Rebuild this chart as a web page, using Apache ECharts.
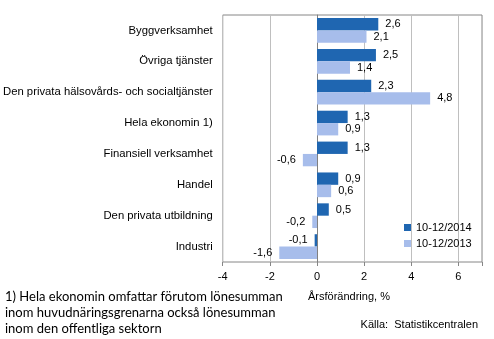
<!DOCTYPE html>
<html><head><meta charset="utf-8">
<script src="https://cdn.jsdelivr.net/npm/echarts@6/dist/echarts.min.js"></script>
<style>html,body{margin:0;padding:0;background:#fff}#c{width:494px;height:339px}</style>
</head><body><div id="c"></div>
<script>
const categories = ['Byggverksamhet','Övriga tjänster','Den privata hälsovårds- och socialtjänster','Hela ekonomin 1)','Finansiell verksamhet','Handel','Den privata utbildning','Industri'];
const series2014 = [2.6, 2.5, 2.3, 1.3, 1.3, 0.9, 0.5, -0.1];
const series2013 = [2.1, 1.4, 4.8, 0.9, -0.6, 0.6, -0.2, -1.6];
const xTicks = [-4, -2, 0, 2, 4, 6];
const names = ['10-12/2014', '10-12/2013'];
const footnote = '1) Hela ekonomin omfattar förutom lönesumman\ninom huvudnäringsgrenarna också lönesumman\ninom den offentliga sektorn';
const axisTitle = 'Årsförändring, %';
const source = 'Källa:  Statistikcentralen';

const FONT = '"Liberation Sans", Arial, sans-serif';
function mk(vals){
  return vals.map(v => ({value: v, label: {position: v < 0 ? 'left' : 'right'}}));
}
const chart = echarts.init(document.getElementById('c'), null, {renderer: 'canvas'});
chart.setOption({
  animation: false,
  grid: {left: 222, right: 12, top: 15, bottom: 77, show: true, borderColor: '#868686', borderWidth: 1},
  legend: {
    orient: 'vertical', left: 399, top: 217, itemWidth: 7, itemHeight: 7, itemGap: 5,
    icon: 'rect', textStyle: {fontFamily: FONT, fontSize: 11, color: '#000'},
    data: names
  },
  xAxis: {
    type: 'value', min: -4, max: 7, interval: 2,
    axisLine: {show: false},
    axisTick: {show: true, length: 4, lineStyle: {color: '#868686'}},
    axisLabel: {fontFamily: FONT, fontSize: 11, color: '#000', margin: 9,
      formatter: v => xTicks.includes(v) ? String(v) : ''},
    splitLine: {show: true, lineStyle: {color: '#BFBFBF'}}
  },
  yAxis: {
    type: 'category', data: categories, inverse: true,
    axisLine: {show: true, onZero: true, lineStyle: {color: '#808080'}},
    axisTick: {show: false},
    axisLabel: {fontFamily: FONT, fontSize: 11.3, color: '#000', margin: 10}
  },
  series: [
    {name: names[0], type: 'bar', data: mk(series2014), barGap: '0%', barCategoryGap: '20%',
     itemStyle: {color: '#1F66B1'},
     label: {show: true, fontFamily: FONT, fontSize: 11, color: '#000', distance: 7,
       formatter: p => String(p.value).replace('.', ',')}},
    {name: names[1], type: 'bar', data: mk(series2013), barGap: '0%', barCategoryGap: '20%',
     itemStyle: {color: '#A7BDEB'},
     label: {show: true, fontFamily: FONT, fontSize: 11, color: '#000', distance: 7,
       formatter: p => String(p.value).replace('.', ',')}}
  ],
  graphic: [
    {type: 'text', left: 5, top: 289, style: {text: footnote, font: '13px Lato, "Open Sans", sans-serif', fill: '#000', lineHeight: 16}},
    {type: 'text', left: 308, top: 291, style: {text: axisTitle, font: '11px ' + FONT, fill: '#000'}},
    {type: 'text', right: 16, top: 319, style: {text: source, font: '11px ' + FONT, fill: '#000'}}
  ]
});
</script></body></html>
